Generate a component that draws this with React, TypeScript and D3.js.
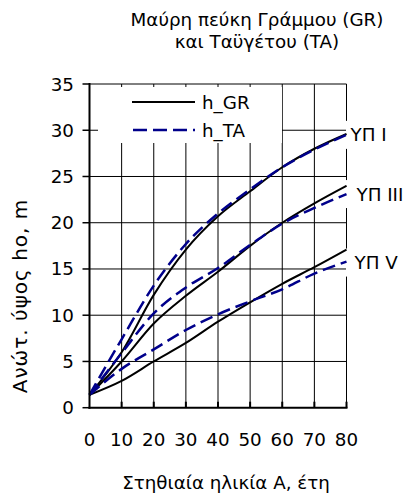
import React from "react";
import * as d3 from "d3";

const ages = [0, 10, 20, 30, 40, 50, 60, 70, 80];
const grI = [1.4, 6.0, 12.2, 17.1, 20.7, 23.4, 26.0, 28.0, 29.6];
const taI = [1.4, 7.4, 13.2, 17.7, 21.0, 23.6, 26.0, 27.9, 29.5];
const grIII = [1.4, 5.0, 9.1, 12.1, 14.7, 17.5, 20.0, 22.1, 24.0];
const taIII = [1.4, 5.9, 10.2, 13.0, 15.1, 17.6, 19.9, 21.6, 23.1];
const grV = [1.4, 2.9, 5.0, 7.0, 9.3, 11.4, 13.4, 15.2, 17.1];
const taV = [1.4, 4.2, 6.3, 8.4, 10.1, 11.5, 12.8, 14.5, 15.8];
const classLabels = ["ΥΠ I", "ΥΠ III", "ΥΠ V"];
const xTicks = [0, 10, 20, 30, 40, 50, 60, 70, 80];
const yTicks = [0, 5, 10, 15, 20, 25, 30, 35];
const titleLines = ["Μαύρη πεύκη Γράμμου (GR)", "και Ταϋγέτου (TA)"];
const xTitle = "Στηθιαία ηλικία A, έτη";
const yTitle = "Ανώτ. ύψος ho, m";
const legendNames = ["h_GR", "h_TA"];

const FONT = "'DejaVu Sans', sans-serif";
const NAVY = "#00008B";
const FS = 18.3;

export default function App() {
  const W = 413, H = 496;
  const x = d3.scaleLinear().domain([0, 80]).range([89.5, 346.5]);
  const y = d3.scaleLinear().domain([0, 35]).range([407.7, 84]);
  const line = d3
    .line<number>()
    .x((_, i) => x(ages[i]))
    .y((d) => y(d))
    .curve(d3.curveMonotoneX);

  const groups = [
    { gr: grI, ta: taI, label: classLabels[0], dx: 4, dy: 0 },
    { gr: grIII, ta: taIII, label: classLabels[1], dx: 10, dy: 0 },
    { gr: grV, ta: taV, label: classLabels[2], dx: 8, dy: 1 },
  ];

  const legX0 = 98, legX1 = 282, legY0 = 87, legY1 = 143;

  return (
    <svg width={W} height={H} style={{ position: "absolute", left: 0, top: 0, background: "#fff" }} fontFamily={FONT}>
      <rect x={0} y={0} width={W} height={H} fill="#fff" />
      {titleLines.map((t, i) => (
        <text key={t} x={257} y={26 + i * 22} textAnchor="middle" fontSize={FS} fill="#000">
          {t}
        </text>
      ))}
      {xTicks.filter((t) => t > 0).map((t) => (
        <line key={"vx" + t} x1={x(t)} x2={x(t)} y1={y(35)} y2={y(0)} stroke="#000" strokeWidth={1} />
      ))}
      {yTicks.filter((t) => t > 0).map((t) => (
        <line key={"hy" + t} x1={x(0)} x2={x(80)} y1={y(t)} y2={y(t)} stroke="#000" strokeWidth={1} />
      ))}
      <rect x={legX0} y={legY0} width={legX1 - legX0} height={legY1 - legY0} fill="#fff" />
      {groups.map((g) => (
        <rect key={"lb" + g.label} x={346} y={y(g.ta[g.ta.length - 1]) + g.dy - 14} width={67} height={28} fill="#fff" />
      ))}
      {groups.map((g) => (
        <g key={"c" + g.label}>
          <path d={line(g.gr) || ""} fill="none" stroke="#000" strokeWidth={2} />
          <path d={line(g.ta) || ""} fill="none" stroke={NAVY} strokeWidth={2.5} strokeDasharray="13,6" />
        </g>
      ))}
      {groups.map((g) => (
        <text key={"lt" + g.label} x={x(80) + g.dx} y={y(g.ta[g.ta.length - 1]) + g.dy} dominantBaseline="central" fontSize={FS} fill="#000">
          {g.label}
        </text>
      ))}
      <line x1={x(0)} x2={x(0)} y1={y(35) - 1} y2={y(0) + 1} stroke="#000" strokeWidth={2} />
      <line x1={x(0) - 1} x2={x(80) + 1} y1={y(0)} y2={y(0)} stroke="#000" strokeWidth={2} />
      {yTicks.map((t) => (
        <g key={"yt" + t}>
          <line x1={x(0) - 7} x2={x(0)} y1={y(t)} y2={y(t)} stroke="#000" strokeWidth={1.5} />
          <text x={74} y={y(t)} textAnchor="end" dominantBaseline="central" fontSize={FS} fill="#000">
            {t}
          </text>
        </g>
      ))}
      {xTicks.map((t) => (
        <g key={"xt" + t}>
          {t > 0 && <line x1={x(t)} x2={x(t)} y1={y(0) - 6} y2={y(0)} stroke="#000" strokeWidth={2} />}
          <text x={x(t)} y={446} textAnchor="middle" fontSize={FS} fill="#000">
            {t}
          </text>
        </g>
      ))}
      <line x1={132} x2={195} y1={102} y2={102} stroke="#000" strokeWidth={2} />
      <text x={202} y={102} dominantBaseline="central" fontSize={FS} fill="#000">{legendNames[0]}</text>
      <line x1={133} x2={195} y1={130} y2={130} stroke={NAVY} strokeWidth={2.5} strokeDasharray="14,6" />
      <text x={202} y={130} dominantBaseline="central" fontSize={FS} fill="#000">{legendNames[1]}</text>
      <text x={226} y={489} textAnchor="middle" fontSize={FS} fill="#000">{xTitle}</text>
      <text transform={`translate(27,296) rotate(-90)`} textAnchor="middle" fontSize={20} letterSpacing={1} fill="#000">{yTitle}</text>
    </svg>
  );
}
